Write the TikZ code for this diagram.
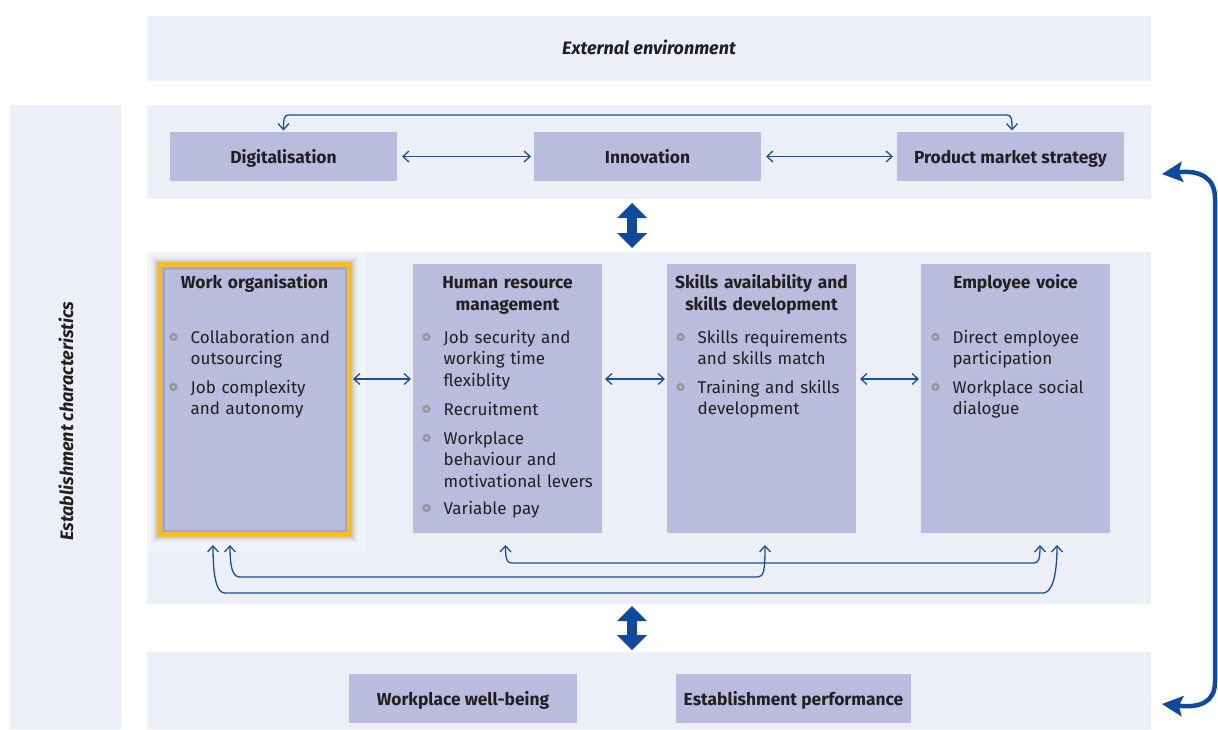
\documentclass[tikz,border=0pt]{standalone}
\usepackage{fontspec}
\setmainfont{Fira Sans}
\usetikzlibrary{arrows.meta,calc}
\definecolor{bandc}{HTML}{ECEFF7}
\definecolor{glowc}{HTML}{F3F4F9}
\definecolor{boxc}{HTML}{B9BCDD}
\definecolor{innerc}{HTML}{9FA1C0}
\definecolor{arrowc}{HTML}{1B4F9D}
\definecolor{thickc}{HTML}{0F4A9C}
\definecolor{goldc}{HTML}{FBBC14}
\definecolor{txtc}{HTML}{231F20}
\definecolor{bulletc}{HTML}{959595}
\newcommand\mytitlefont{\fontsize{17.4}{22}\selectfont\bfseries}
\newcommand\myitemfont{\fontsize{17}{21.5}\selectfont}
\newcommand\mylabelfont{\fontsize{18}{20}\selectfont\bfseries\itshape}
\begin{document}
\begin{tikzpicture}[x=1pt,y=-1pt,
  bandnode/.style={fill=bandc,draw=none,inner sep=0pt,outer sep=0pt},
  smallbox/.style={fill=boxc,draw=none,inner sep=0pt,outer sep=0pt,minimum width=227pt,minimum height=49pt,text height=15pt,text depth=2pt,font=\mytitlefont,text=txtc},
  bigbox/.style={fill=boxc,draw=none,inner sep=0pt,outer sep=0pt,minimum width=189pt,minimum height=269pt},
  boxtitle/.style={anchor=base,text width=189pt,align=center,inner sep=0pt,font=\mytitlefont,text=txtc},
  listitem/.style={anchor=base west,text width=180pt,align=left,inner sep=0pt,font=\myitemfont,text=txtc},
  bulletdot/.style={circle,draw=bulletc,line width=2.3pt,inner sep=0pt,minimum size=5.8pt},
  link/.style={draw=arrowc,line width=1.3pt,{Straight Barb[length=6pt,width=11pt]}-{Straight Barb[length=6pt,width=11pt]}},
  bigdbl/.style={draw=thickc,line width=10pt,{Triangle[length=15pt,width=30pt,line width=0pt]}-{Triangle[length=15pt,width=30pt,line width=0pt]}},
  bigcurve/.style={draw=thickc,line width=4.5pt,{Stealth[length=21pt,width=21pt,inset=4pt,line width=0pt]}-{Stealth[length=21pt,width=21pt,inset=4pt,line width=0pt]}}
]
\useasboundingbox (0,0) rectangle (1218,729);
\fill[white] (0,0) rectangle (1218,729);

% bands
\node[bandnode,minimum width=1004pt,minimum height=65pt,text height=14pt,text depth=2pt,font=\mylabelfont,text=txtc] (ext) at (649,48.5) {External environment};
\node[bandnode,minimum width=111pt,minimum height=624pt] (leftband) at (65.5,417) {};
\node[rotate=90,font=\mylabelfont,text=txtc,inner sep=0pt] (estab) at (66,421) {Establishment characteristics};
\node[bandnode,minimum width=1004pt,minimum height=94pt] (topband) at (649,152) {};
\node[bandnode,minimum width=1004pt,minimum height=352pt] (midband) at (649,428) {};
\node[bandnode,minimum width=1004pt,minimum height=77pt] (botband) at (649,690.5) {};

% top row
\node[smallbox] (dig) at (283.5,156.5) {Digitalisation};
\node[smallbox] (inn) at (647.5,156.5) {Innovation};
\node[smallbox] (pms) at (1010.5,156.5) {Product market strategy};

% bottom row
\node[smallbox,minimum width=228pt] (wb) at (463,698.5) {Workplace well-being};
\node[smallbox,minimum width=235pt] (perf) at (793.5,698.5) {Establishment performance};

% work organisation highlight
\fill[glowc] (147,252) rectangle (366,552);
\node[bigbox,minimum width=190pt,minimum height=270pt] (wo) at (254.5,399.5) {};
\foreach \d/\o in {3/0.16,4/0.12,5/0.09,6/0.06,7/0.04,8/0.02}{
  \draw[black,opacity=\o,line width=1pt] ($(wo.south west)+(-\d,\d)$) rectangle ($(wo.north east)+(\d,-\d)$);
}
\draw[innerc,line width=2.5pt,opacity=0.8] ($(wo.south west)+(3.75,-3.75)$) rectangle ($(wo.north east)+(-3.75,3.75)$);
\draw[goldc,line width=5pt] (wo.south west) rectangle (wo.north east);

\node[bigbox] (hr) at (507.5,398.5) {};
\node[bigbox] (sk) at (761.5,398.5) {};
\node[bigbox] (vo) at (1015.5,398.5) {};

% titles
\node[boxtitle] (wot) at ($(wo.north)+(0,23.5)$) {Work organisation};
\node[boxtitle] (hrt) at ($(hr.north)+(0,24)$) {Human resource\\management};
\node[boxtitle] (skt) at ($(sk.north)+(0,24)$) {Skills availability and\\skills development};
\node[boxtitle] (vot) at ($(vo.north)+(0,24)$) {Employee voice};

% items
\node[listitem] (wo1) at ($(wo.north west)+(31,78.5)$) {Collaboration and\\outsourcing};
\node[listitem] (wo2) at ($(wo.north west)+(31,128.5)$) {Job complexity\\and autonomy};
\node[listitem] (hr1) at ($(hr.north west)+(30.5,79)$) {Job security and\\working time\\flexiblity};
\node[listitem] (hr2) at ($(hr.north west)+(30.5,151)$) {Recruitment};
\node[listitem] (hr3) at ($(hr.north west)+(30.5,180)$) {Workplace\\behaviour and\\motivational levers};
\node[listitem] (hr4) at ($(hr.north west)+(30.5,250)$) {Variable pay};
\node[listitem] (sk1) at ($(sk.north west)+(30.5,79)$) {Skills requirements\\and skills match};
\node[listitem] (sk2) at ($(sk.north west)+(30.5,129)$) {Training and skills\\development};
\node[listitem] (vo1) at ($(vo.north west)+(31.5,79)$) {Direct employee\\participation};
\node[listitem] (vo2) at ($(vo.north west)+(31.5,129)$) {Workplace social\\dialogue};

% bullets
\foreach \it in {wo1,wo2,hr1,hr2,hr3,hr4,sk1,sk2,vo1,vo2}{
  \node[bulletdot] (b-\it) at ($(\it.base west)+(-17,-6)$) {};
}

% top row connectors
\draw[link] ([xshift=5pt]dig.east) -- ([xshift=-3pt]inn.west);
\draw[link] ([xshift=5pt]inn.east) -- ([xshift=-4pt]pms.west);
\coordinate (digT) at ($(dig.north)+(0,-1.5)$);
\coordinate (pmsT) at ($(pms.north)+(1.5,-1.5)$);
\draw[link] (digT) .. controls +(0,-10) and +(-5,0) .. ++(5,-15.5) -- ($(pmsT)+(-5,-15.5)$) .. controls +(5,0) and +(0,-10) .. (pmsT);

% middle row connectors
\coordinate (row) at (0,379);
\draw[link] ($(wo.east |- row)+(3.5,0)$) -- ($(hr.west |- row)+(-2,0)$);
\draw[link] ($(hr.east |- row)+(3,0)$) -- ($(sk.west |- row)+(-2,0)$);
\draw[link] ($(sk.east |- row)+(4,0)$) -- ($(vo.west |- row)+(-2,0)$);

% bottom loops
\coordinate (woA) at ($(wo.south)+(-41.5,10.5)$);
\coordinate (woB) at ($(wo.south)+(-24.5,10.5)$);
\coordinate (hrA) at ($(hr.south)+(-2,12)$);
\coordinate (skA) at ($(sk.south)+(3.5,12)$);
\coordinate (voA) at ($(vo.south)+(24.5,12)$);
\coordinate (voB) at ($(vo.south)+(41.5,12)$);
\draw[link] (hrA) .. controls +(0,13) and +(-5,0) .. ++(6,18) -- ($(voA)+(-6,18)$) .. controls +(5,0) and +(0,13) .. (voA);
\draw[link] (woB) .. controls +(0,24) and +(-7,0) .. ++(10,32) -- ($(skA)+(-7,32)$) .. controls +(6,0) and +(0,24) .. (skA);
\draw[link] (woA) .. controls +(0,34) and +(-8,0) .. ++(12,48) -- ($(voB)+(-14,48)$) .. controls +(8,0) and +(0,34) .. (voB);

% thick arrows
\draw[bigdbl] ($(topband.south)+(-17,4)$) -- ($(midband.north)+(-17,-4)$);
\draw[bigdbl] ($(midband.south)+(-17,2)$) -- ($(botband.north)+(-17,-2)$);
\coordinate (rtop) at (1162,174);
\coordinate (rbot) at (1162,704);
\draw[bigcurve] (rtop) .. controls +(38,-4) and +(0,-20) .. (1215,198) -- (1215,682) .. controls +(0,20) and +(38,4) .. (rbot);
\end{tikzpicture}
\end{document}
